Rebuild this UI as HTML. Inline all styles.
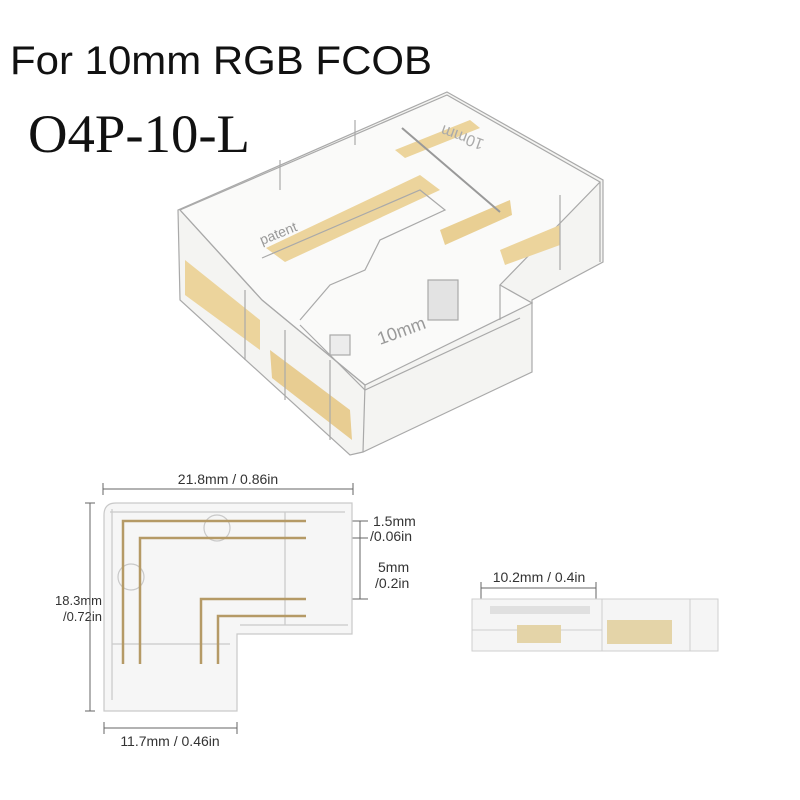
<!DOCTYPE html>
<html><head><meta charset="utf-8"><style>
html,body{margin:0;padding:0;background:#fff;}
svg{display:block;}
</style></head><body>
<svg width="800" height="800" viewBox="0 0 800 800" xmlns="http://www.w3.org/2000/svg">
<rect width="800" height="800" fill="#fff"/>
<text x="10" y="74" font-family="Liberation Sans, sans-serif" font-size="40" fill="#111" textLength="422" lengthAdjust="spacingAndGlyphs">For 10mm RGB FCOB</text>
<text x="28" y="152" font-family="Liberation Serif, serif" font-size="54" fill="#111" textLength="222" lengthAdjust="spacingAndGlyphs">O4P-10-L</text>

<g stroke="#a9a9a9" stroke-width="1.2" fill="none">
  <polygon points="178,210 447,92 603,180 603,262 532,300 532,372 363,452 350,455 180,300" fill="#f4f4f2"/>
  <polygon points="180,210 447,95 600,182 500,285 532,303 365,385 262,300" fill="#fafaf9"/>
  <polygon points="266,248 420,175 440,190 285,262" fill="#ecd49c" stroke="none"/>
  <polygon points="395,150 470,120 480,128 405,158" fill="#ecd49c" stroke="none"/>
  <polygon points="440,230 510,200 512,215 445,245" fill="#e9cf93" stroke="none"/>
  <polygon points="185,260 260,320 260,350 185,295" fill="#ecd49c" stroke="none"/>
  <polygon points="270,350 350,410 352,440 272,378" fill="#e8cd92" stroke="none"/>
  <polygon points="500,250 560,225 560,245 505,265" fill="#ecd49c" stroke="none"/>
  <polyline points="262,258 420,190 445,210 380,240 365,270 330,285 300,320"/>
  <polyline points="300,325 365,390 520,318"/>
  <line x1="402" y1="128" x2="500" y2="212" stroke="#999" stroke-width="2"/>
  <line x1="180" y1="210" x2="262" y2="300"/>
  <line x1="262" y1="300" x2="365" y2="385"/>
  <line x1="365" y1="385" x2="363" y2="452"/>
  <line x1="600" y1="182" x2="600" y2="262"/>
  <line x1="500" y1="285" x2="500" y2="320"/>
  <line x1="245" y1="290" x2="245" y2="360"/>
  <line x1="285" y1="330" x2="285" y2="400"/>
  <line x1="330" y1="360" x2="330" y2="440"/>
  <line x1="560" y1="195" x2="560" y2="270"/>
  <line x1="280" y1="190" x2="280" y2="160"/>
  <line x1="355" y1="145" x2="355" y2="120"/>
  <rect x="428" y="280" width="30" height="40" fill="#e3e3e3"/>
  <rect x="330" y="335" width="20" height="20" fill="#ececec"/>
</g>
<text x="380" y="345" font-family="Liberation Sans, sans-serif" font-size="18" fill="#999" transform="rotate(-20 380 345)">10mm</text>
<text x="262" y="245" font-family="Liberation Sans, sans-serif" font-size="14" fill="#999" transform="rotate(-22 262 245)">patent</text>
<text x="485" y="140" font-family="Liberation Sans, sans-serif" font-size="16" fill="#aaa" transform="rotate(200 485 140)">10mm</text>

<g font-family="Liberation Sans, sans-serif" font-size="14" fill="#333">
  <text x="228" y="484" text-anchor="middle">21.8mm / 0.86in</text>
  <text x="102" y="605" text-anchor="end" font-size="13">18.3mm</text>
  <text x="102" y="621" text-anchor="end" font-size="13">/0.72in</text>
  <text x="170" y="746" text-anchor="middle">11.7mm / 0.46in</text>
  <text x="373" y="526">1.5mm</text>
  <text x="370" y="541">/0.06in</text>
  <text x="378" y="572">5mm</text>
  <text x="375" y="588">/0.2in</text>
  <text x="539" y="582" text-anchor="middle">10.2mm / 0.4in</text>
</g>
<g stroke="#666" stroke-width="1" fill="none">
  <line x1="103" y1="489" x2="353" y2="489"/>
  <line x1="103" y1="483" x2="103" y2="495"/><line x1="353" y1="483" x2="353" y2="495"/>
  <line x1="90" y1="503" x2="90" y2="711"/>
  <line x1="85" y1="503" x2="95" y2="503"/><line x1="85" y1="711" x2="95" y2="711"/>
  <line x1="104" y1="728" x2="237" y2="728"/>
  <line x1="104" y1="722" x2="104" y2="734"/><line x1="237" y1="722" x2="237" y2="734"/>
  <line x1="308" y1="521" x2="368" y2="521"/>
  <line x1="308" y1="538" x2="368" y2="538"/>
  <line x1="308" y1="599" x2="368" y2="599"/>
  <line x1="360" y1="521" x2="360" y2="599"/>
</g>
<g stroke="#c9c9c9" stroke-width="1.2" fill="#f6f6f6">
  <path d="M116,503 L352,503 L352,634 L237,634 L237,711 L104,711 L104,515 Q104,503 116,503 Z"/>
  <line x1="285" y1="512" x2="285" y2="625"/>
  <line x1="112" y1="644" x2="230" y2="644"/>
  <line x1="112" y1="509" x2="112" y2="700"/>
  <line x1="110" y1="512" x2="345" y2="512"/>
  <line x1="240" y1="625" x2="348" y2="625"/>
  <circle cx="217" cy="528" r="13" fill="none"/>
  <circle cx="131" cy="577" r="13" fill="none"/>
</g>
<g stroke="#b59a66" stroke-width="2.5" fill="none">
  <polyline points="306,521 123,521 123,664"/>
  <polyline points="306,538 140,538 140,664"/>
  <polyline points="306,599 201,599 201,664"/>
  <polyline points="306,616 218,616 218,664"/>
</g>

<g stroke="#666" stroke-width="1" fill="none">
  <line x1="481" y1="588" x2="596" y2="588"/>
  <line x1="481" y1="582" x2="481" y2="610"/><line x1="596" y1="582" x2="596" y2="610"/>
</g>
<g stroke="#cfcfcf" stroke-width="1" fill="#f5f5f5">
  <rect x="472" y="599" width="246" height="52"/>
  <line x1="602" y1="599" x2="602" y2="651"/>
  <line x1="472" y1="630" x2="602" y2="630"/>
  <line x1="690" y1="599" x2="690" y2="651"/>
</g>
<rect x="517" y="625" width="44" height="18" fill="#e4d4a8"/>
<rect x="607" y="620" width="65" height="24" fill="#e4d4a8"/>
<rect x="490" y="606" width="100" height="8" fill="#e0e0e0"/>
</svg>
</body></html>
